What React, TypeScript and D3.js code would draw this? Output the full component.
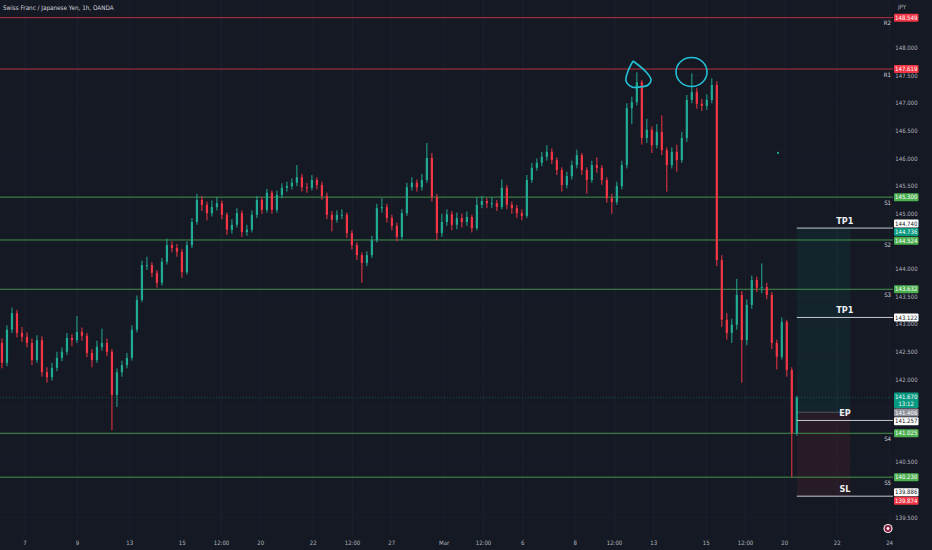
import React from "react";
import * as d3 from "d3";

const firstOpen = 142.6;
const closes = [
  142.66, 142.3, 142.9, 143.2, 142.84, 142.77, 142.66, 142.35, 142.71, 142.13,
  142.04, 142.21, 142.39, 142.5, 142.75, 142.71, 142.86, 142.79, 142.48, 142.35,
  142.59, 142.66, 142.5, 141.72, 142.13, 142.26, 142.39, 142.9, 143.44, 144.07,
  144.07, 143.93, 143.75, 144.13, 144.43, 144.38, 144.31, 143.94, 144.43, 144.85,
  145.25, 145.16, 145.01, 145.12, 145.19, 144.98, 144.71, 144.8, 145.01, 144.67,
  144.71, 144.98, 145.25, 145.07, 145.38, 145.07, 145.34, 145.47, 145.5, 145.56,
  145.66, 145.48, 145.47, 145.61, 145.52, 145.32, 144.98, 144.89, 144.98, 144.98,
  144.65, 144.43, 144.25, 144.11, 144.25, 144.52, 145.1, 145.12, 144.92, 144.78,
  144.58, 145.01, 145.48, 145.56, 145.48, 145.61, 146.01, 145.3, 144.65, 144.85,
  144.99, 144.8, 144.92, 144.85, 144.94, 144.74, 145.16, 145.23, 145.19, 145.19,
  145.12, 145.47, 145.16, 145.1, 145.01, 144.96, 145.61, 145.83, 145.92, 146.03,
  146.12, 145.97, 145.79, 145.52, 145.68, 145.88, 146.06, 145.79, 145.61, 145.88,
  145.83, 145.61, 145.28, 145.21, 145.5, 145.88, 146.91, 147.02, 147.38, 146.37,
  146.52, 146.24, 146.48, 146.15, 145.88, 146.12, 145.97, 146.37, 147.06, 147.2,
  146.99, 146.95, 147.06, 147.33, 144.16, 143.08, 142.84, 142.99, 143.53, 142.71,
  143.35, 143.8, 143.66, 143.67, 143.53, 142.66, 142.41, 143.04, 142.17, 141.03,
  141.67,
];
const highs = [
  142.78, 142.74, 142.98, 143.3, 143.26, 142.95, 142.85, 142.74, 142.8, 142.78,
  142.22, 142.3, 142.5, 142.58, 142.84, 142.82, 143.15, 142.94, 142.84, 142.55,
  142.7, 142.92, 142.74, 142.55, 142.2, 142.34, 142.48, 142.98, 143.52, 144.15,
  144.22, 144.12, 143.98, 144.2, 144.55, 144.5, 144.45, 144.36, 144.5, 144.92,
  145.36, 145.32, 145.22, 145.24, 145.3, 145.24, 145.02, 144.9, 145.1, 145.06,
  144.8, 145.06, 145.32, 145.3, 145.45, 145.42, 145.42, 145.55, 145.58, 145.64,
  145.88, 145.72, 145.56, 145.7, 145.66, 145.58, 145.38, 145.05, 145.06, 145.08,
  145.02, 144.7, 144.48, 144.3, 144.32, 144.6, 145.18, 145.28, 145.18, 144.98,
  144.84, 145.08, 145.56, 145.66, 145.62, 145.72, 146.28, 146.1, 145.36, 145.0,
  145.08, 145.05, 145.02, 145.0, 145.04, 144.98, 145.3, 145.32, 145.28, 145.3,
  145.25, 145.62, 145.52, 145.22, 145.16, 145.08, 145.7, 145.92, 146.0, 146.12,
  146.24, 146.18, 146.02, 145.84, 145.76, 145.96, 146.16, 146.1, 145.84, 145.96,
  146.02, 145.88, 145.66, 145.36, 145.58, 145.96, 147.0, 147.12, 147.56, 147.42,
  146.72, 146.58, 146.62, 146.78, 146.2, 146.2, 146.25, 146.48, 147.15, 147.54,
  147.28, 147.08, 147.16, 147.45, 147.4, 144.25, 143.2, 143.1, 143.82, 143.6,
  143.45, 143.88, 143.86, 144.1, 143.75, 143.58, 142.72, 143.12, 143.08, 142.22,
  141.7,
];
const lows = [
  142.52, 142.2, 142.24, 142.84, 142.76, 142.68, 142.58, 142.26, 142.3, 142.05,
  141.94, 141.98, 142.15, 142.33, 142.44, 142.6, 142.66, 142.7, 142.4, 142.22,
  142.3, 142.52, 142.42, 141.08, 141.5, 142.05, 142.2, 142.34, 142.85, 143.4,
  143.98, 143.85, 143.66, 143.7, 144.08, 144.3, 144.22, 143.84, 143.9, 144.38,
  144.8, 145.05, 144.88, 144.95, 145.06, 144.9, 144.62, 144.64, 144.75, 144.58,
  144.6, 144.66, 144.92, 145.0, 145.02, 145.0, 145.02, 145.28, 145.4, 145.44,
  145.5, 145.4, 145.38, 145.42, 145.44, 145.25, 144.9, 144.68, 144.84, 144.9,
  144.56, 144.35, 144.16, 143.75, 144.05, 144.2, 144.48, 145.02, 144.84, 144.7,
  144.5, 144.52, 144.96, 145.42, 145.4, 145.42, 145.56, 145.22, 144.52, 144.58,
  144.78, 144.7, 144.72, 144.75, 144.78, 144.66, 144.7, 145.1, 145.1, 145.1,
  145.05, 145.08, 145.08, 145.0, 144.92, 144.88, 144.92, 145.56, 145.78, 145.86,
  145.96, 145.9, 145.7, 145.4, 145.46, 145.62, 145.82, 145.7, 145.36, 145.56,
  145.74, 145.52, 145.2, 145.0, 145.16, 145.44, 145.82, 146.62, 146.96, 146.25,
  146.28, 146.1, 146.18, 146.06, 145.4, 145.82, 145.76, 145.92, 146.3, 147.0,
  146.9, 146.86, 146.88, 147.0, 144.05, 142.95, 142.72, 142.66, 142.9, 141.94,
  142.62, 143.28, 143.58, 143.56, 143.45, 142.55, 142.18, 142.36, 142.05, 140.23,
  140.98,
];

// time: trading days counted from Mon Feb 6
const barStartDay = -0.07;
const barDays = 0.1908;
const tickLabels = ["7", "9", "13", "15", "12:00", "20", "22", "12:00", "27", "Mar",
  "12:00", "6", "8", "12:00", "13", "15", "12:00", "20", "22", "24"];
const tickDays = [1, 3, 5, 7, 8.5, 10, 12, 13.5, 15, 17, 18.5, 20, 22, 23.5, 25, 27, 28.5, 30, 32, 34];

const levelNames = ["R2", "R1", "S1", "S2", "S3", "S4", "S5"];
const levelPrices = [148.549, 147.619, 145.3, 144.524, 143.632, 141.025, 140.23];

const tradeNames = ["TP1", "TP1", "EP", "SL"];
const tradePrices = [144.74, 143.122, 141.257, 139.886];

const entryPrice = 141.406;
const targetPrice = 144.736;
const stopPrice = 139.874;
const lastPrice = 141.67;
const countdown = "13:12";
const positionEndDay = 32.5;

const markDays = [24.4, 26.44];
const markPrices = [147.475, 147.565];
const dotDay = 29.74;
const dotPrice = 146.1;

const W = 932;
const H = 550;
const plotRight = 893;
const axisFont = "'DejaVu Sans Condensed', 'Liberation Sans Narrow', Roboto, sans-serif";

const upColor = "#22ab94";
const downColor = "#f23645";
const red = "#f23645";
const green = "#4caf50";

export default function App() {
  const x = d3.scaleLinear().domain([1, 34]).range([25, 889.6]);
  const y = d3.scaleLinear().domain([148, 139.5]).range([48, 517.5]);
  const fmt = d3.format(".3f");
  const priceTicks = d3.range(139.5, 148.001, 0.5);

  const candles = closes.map((c, i) => ({
    o: i === 0 ? firstOpen : closes[i - 1],
    c,
    h: highs[i],
    l: lows[i],
    x: x(barStartDay + i * barDays),
  }));
  const lastX = candles[candles.length - 1].x;
  const posX1 = x(positionEndDay);

  // right-axis price labels, pushed apart when they overlap
  const raw = [
    ...levelPrices.map((p, i) => ({ price: p, text: fmt(p), bg: levelNames[i][0] === "R" ? red : green, fg: "#fff", sub: "" })),
    ...tradePrices.map((p) => ({ price: p, text: fmt(p), bg: "#ffffff", fg: "#131722", sub: "" })),
    { price: entryPrice, text: fmt(entryPrice), bg: "#8f929b", fg: "#fff", sub: "" },
    { price: targetPrice, text: fmt(targetPrice), bg: "#089981", fg: "#fff", sub: "" },
    { price: stopPrice, text: fmt(stopPrice), bg: red, fg: "#fff", sub: "" },
    { price: lastPrice, text: fmt(lastPrice), bg: "#089981", fg: "#fff", sub: countdown },
  ];
  const labs = raw
    .map((l) => ({ ...l, y: y(l.price), up: 4, down: l.sub ? 11.5 : 4 }))
    .sort((a, b) => a.y - b.y || b.price - a.price);
  for (let k = 0; k < 80; k++) {
    for (let i = 0; i < labs.length - 1; i++) {
      const a = labs[i];
      const b = labs[i + 1];
      const o = a.y + a.down + 0.6 - (b.y - b.up);
      if (o > 0) {
        a.y -= o / 2;
        b.y += o / 2;
      }
    }
  }

  // tick texts mostly hidden behind a label box are left out
  const shownTicks = priceTicks.filter((p) => {
    const t = y(p);
    return !labs.some((l) => {
      const ov = Math.min(t + 3, l.y + l.down) - Math.max(t - 3, l.y - l.up);
      return ov > 2.5;
    });
  });

  const tear = d3
    .line<[number, number]>()
    .curve(d3.curveCatmullRom)([
      [-5, -16], [-10, -6], [-12, 4], [-6, 10], [2, 10], [10, 8], [13, 3], [8, -5], [-5, -16],
    ]);

  return (
    <svg width={W} height={H} style={{ position: "absolute", left: 0, top: 0, display: "block" }}>
      <rect width={W} height={H} fill="#151924" />

      {/* grid */}
      {tickDays.map((d, i) => (
        <line key={"vg" + i} x1={x(d)} x2={x(d)} y1={0} y2={536} stroke="#1c202e" strokeWidth={1} />
      ))}
      {priceTicks.map((p, i) => (
        <line key={"hg" + i} x1={0} x2={plotRight} y1={y(p)} y2={y(p)} stroke="#191d29" strokeWidth={1} />
      ))}

      {/* position tool */}
      <rect x={lastX} width={posX1 - lastX} y={y(targetPrice)} height={y(entryPrice) - y(targetPrice)} fill="#089981" opacity={0.09} />
      <rect x={lastX} width={posX1 - lastX} y={y(entryPrice)} height={y(stopPrice) - y(entryPrice)} fill={red} opacity={0.08} />
      <line x1={lastX} x2={posX1} y1={y(entryPrice)} y2={y(entryPrice)} stroke="#5d6270" strokeWidth={0.8} />

      {/* support / resistance */}
      {levelPrices.map((p, i) => (
        <g key={"lv" + i}>
          <line x1={0} x2={plotRight} y1={y(p)} y2={y(p)} stroke={levelNames[i][0] === "R" ? "#b8323f" : "#43934a"} strokeWidth={1} />
          <text x={891} y={y(p) + 7.5} fontSize={6} fill="#d1d4dc" textAnchor="end" fontFamily={axisFont}>
            {levelNames[i]}
          </text>
        </g>
      ))}

      {/* last price line */}
      <line x1={0} x2={plotRight} y1={y(lastPrice)} y2={y(lastPrice)} stroke="#089981" strokeOpacity={0.45} strokeDasharray="1 2" />

      {/* candles */}
      {candles.map((d, i) => {
        const col = d.c >= d.o ? upColor : downColor;
        const top = y(Math.max(d.o, d.c));
        const bh = Math.max(1, Math.abs(y(d.o) - y(d.c)));
        return (
          <g key={"c" + i}>
            <line x1={d.x} x2={d.x} y1={y(d.h)} y2={y(d.l)} stroke={col} strokeWidth={1} />
            <rect x={d.x - 1.1} width={2.2} y={top} height={bh} fill={col} />
          </g>
        );
      })}
      <circle cx={x(dotDay)} cy={y(dotPrice)} r={1.1} fill={upColor} />

      {/* trade lines */}
      {tradePrices.map((p, i) => (
        <g key={"tr" + i}>
          <line x1={lastX} x2={plotRight} y1={y(p)} y2={y(p)} stroke="#c6c8ce" strokeWidth={1} />
          <text x={(lastX + plotRight) / 2} y={y(p) - 4.5} fontSize={9} fontWeight={600} fill="#eceef2" textAnchor="middle" fontFamily={axisFont}>
            {tradeNames[i]}
          </text>
        </g>
      ))}

      {/* hand drawn marks */}
      <path d={tear || ""} transform={`translate(${x(markDays[0])},${y(markPrices[0])})`} fill="none" stroke="#22c1d6" strokeWidth={1.6} />
      <ellipse cx={x(markDays[1])} cy={y(markPrices[1])} rx={15.5} ry={14.5} fill="none" stroke="#22c1d6" strokeWidth={1.6} />

      {/* title */}
      <text x={3} y={10} fontSize={6.3} fill="#d1d4dc" fontFamily={axisFont}>
        Swiss Franc / Japanese Yen, 1h, OANDA
      </text>

      {/* price axis */}
      <text x={902} y={9} fontSize={6} fill="#b2b5be" textAnchor="middle" fontFamily={axisFont}>
        JPY
      </text>
      {shownTicks.map((p, i) => (
        <text key={"pt" + i} x={906.5} y={y(p) + 2.2} fontSize={6} fill="#b2b5be" textAnchor="middle" fontFamily={axisFont}>
          {fmt(p)}
        </text>
      ))}
      {labs.map((l, i) => (
        <g key={"lb" + i}>
          <rect x={894} y={l.y - l.up} width={24.5} height={l.up + l.down} fill={l.bg} rx={1} />
          <text x={906.2} y={l.y + 2.2} fontSize={6} fill={l.fg} textAnchor="middle" fontFamily={axisFont}>
            {l.text}
          </text>
          {l.sub && (
            <text x={906.2} y={l.y + 9.8} fontSize={6} fill={l.fg} textAnchor="middle" fontFamily={axisFont}>
              {l.sub}
            </text>
          )}
        </g>
      ))}

      {/* time axis */}
      {tickLabels.map((t, i) => (
        <text key={"tt" + i} x={x(tickDays[i])} y={545} fontSize={6} fill="#b2b5be" textAnchor="middle" fontFamily={axisFont}>
          {t}
        </text>
      ))}
      <circle cx={888} cy={528.5} r={4.6} fill="#e9e9ee" />
      <circle cx={888} cy={528.5} r={3.4} fill="#8e1d3a" />
      <circle cx={888} cy={528.5} r={1.4} fill="#fff" />
    </svg>
  );
}
